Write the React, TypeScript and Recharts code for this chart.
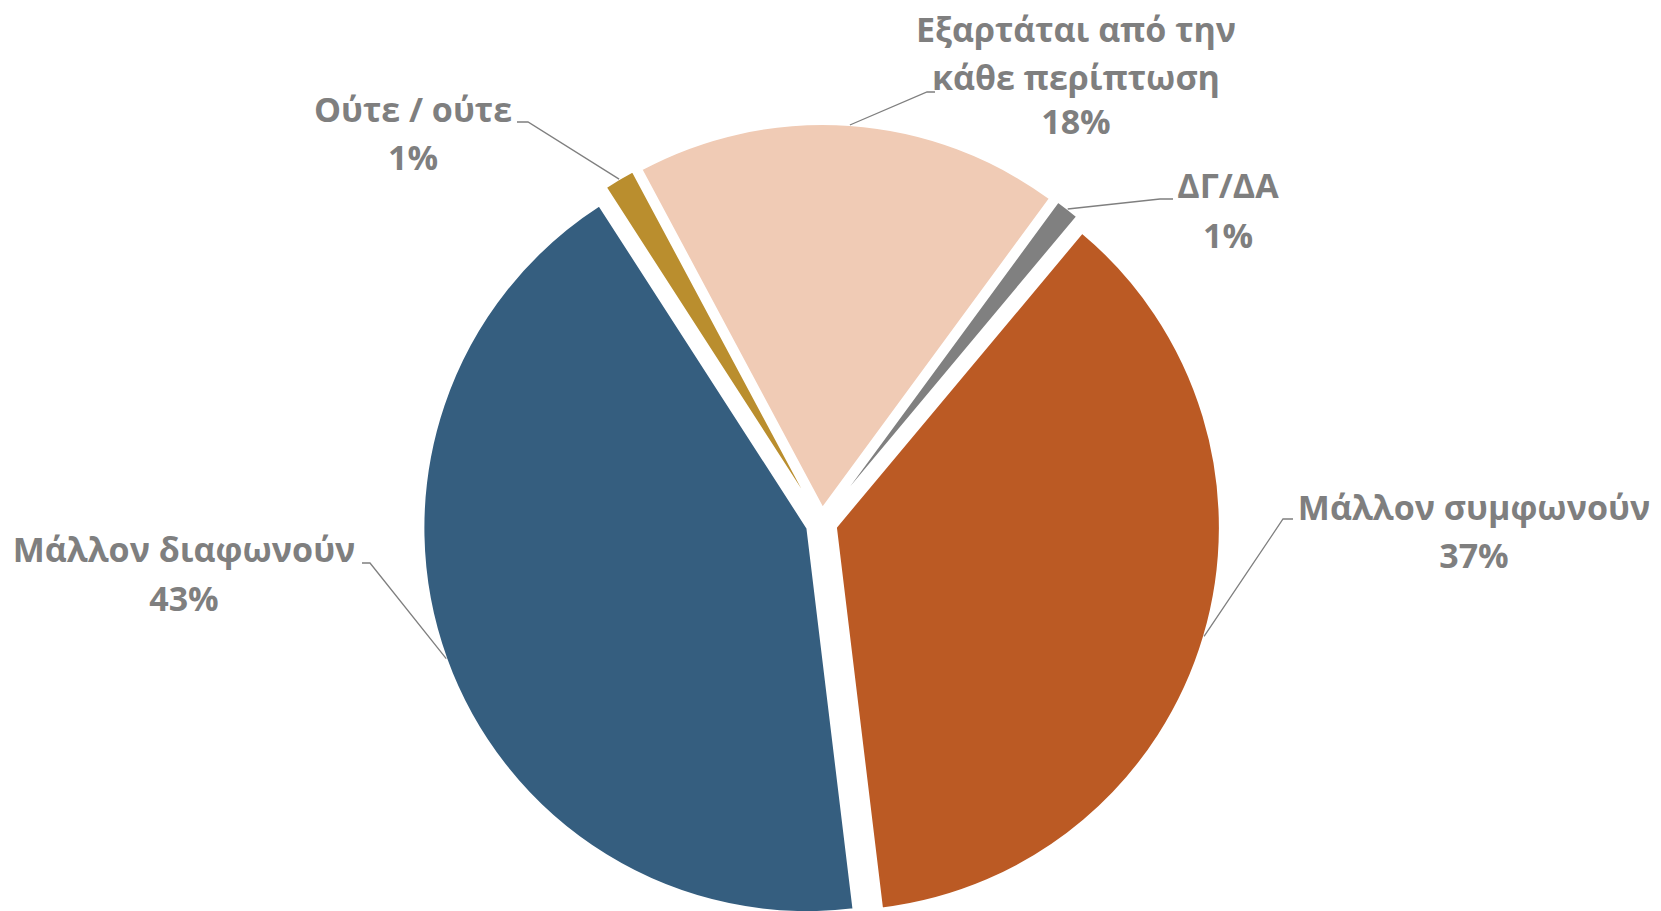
import React from "react";
import { PieChart, Pie, Cell } from "recharts";

// ---- data ----
const categories = [
  "Μάλλον συμφωνούν",
  "Μάλλον διαφωνούν",
  "Ούτε / ούτε",
  "Εξαρτάται από την κάθε περίπτωση",
  "ΔΓ/ΔΑ",
];
const labelLines = [
  ["Μάλλον συμφωνούν"],
  ["Μάλλον διαφωνούν"],
  ["Ούτε / ούτε"],
  ["Εξαρτάται από την", "κάθε περίπτωση"],
  ["ΔΓ/ΔΑ"],
];
const values = [37.0, 42.8, 1.3, 17.9, 1.0];

// ---- styles / layout ----
const colors = ["#BB5A24", "#355E7F", "#BA8E2E", "#F0CBB5", "#808080"];
const TEXT_COLOR = "#7F7F7F";
const LINE_COLOR = "#7F7F7F";
const FONT = "'Open Sans', 'Noto Sans', sans-serif";
const FONT_SIZE = 34;

const W = 1661;
const H = 911;
const CX = 821.5;
const CY = 523;
const R = 384;
const EXPLODE = 15;
const START = 50.1;

// label text centre x, baselines, and leader elbow points (text side first)
const labelLayout = [
  { x: 1474, ys: [520, 568], elbow: [[1293, 519], [1283, 519]] },
  { x: 184, ys: [562, 611], elbow: [[362, 563], [370, 563]] },
  { x: 413, ys: [122, 170], elbow: [[517, 122], [528, 122]] },
  { x: 1076, ys: [42, 90, 134], elbow: [[935, 92], [927, 92]] },
  { x: 1228, ys: [198, 248], elbow: [[1173, 199], [1160, 199]] },
];

const RAD = Math.PI / 180;
const data = categories.map((name, i) => ({ name, value: values[i] }));
const total = values.reduce((a, b) => a + b, 0);

const midAngles = values.map((v, i) => {
  const before = values.slice(0, i).reduce((a, b) => a + b, 0);
  return START - ((before + v / 2) / total) * 360;
});

const makeLabel = (k: number) => (props: any) => {
  if (props.index !== k) return null;
  const { cx, cy, midAngle, outerRadius, percent } = props;
  const ax = cx + outerRadius * Math.cos(-midAngle * RAD);
  const ay = cy + outerRadius * Math.sin(-midAngle * RAD);
  const lay = labelLayout[k];
  const lines = [...labelLines[k], `${Math.round(percent * 100)}%`];
  const d = `M${lay.elbow[0][0]},${lay.elbow[0][1]} L${lay.elbow[1][0]},${lay.elbow[1][1]} L${ax},${ay}`;
  return (
    <g key={`lbl-${k}`}>
      <path d={d} stroke={LINE_COLOR} strokeWidth={1.3} fill="none" />
      <text
        textAnchor="middle"
        fill={TEXT_COLOR}
        fontFamily={FONT}
        fontWeight={700}
        fontSize={FONT_SIZE}
      >
        {lines.map((t, j) => (
          <tspan key={j} x={lay.x} y={lay.ys[j]}>
            {t}
          </tspan>
        ))}
      </text>
    </g>
  );
};

export default function App() {
  return (
    <div style={{ position: "absolute", left: 0, top: 0, width: W, height: H, background: "#fff" }}>
      <PieChart width={W} height={H} margin={{ top: 0, right: 0, bottom: 0, left: 0 }}>
        {values.map((_, k) => (
          <Pie
            key={k}
            data={data}
            dataKey="value"
            nameKey="name"
            cx={CX + EXPLODE * Math.cos(-midAngles[k] * RAD)}
            cy={CY + EXPLODE * Math.sin(-midAngles[k] * RAD)}
            outerRadius={R}
            innerRadius={0}
            startAngle={START}
            endAngle={START - 360}
            isAnimationActive={false}
            labelLine={false}
            label={makeLabel(k)}
          >
            {data.map((_, i) => (
              <Cell
                key={i}
                fill={i === k ? colors[i] : "none"}
                stroke={i === k ? "#ffffff" : "none"}
                strokeWidth={i === k ? 2 : 0}
              />
            ))}
          </Pie>
        ))}
      </PieChart>
    </div>
  );
}
